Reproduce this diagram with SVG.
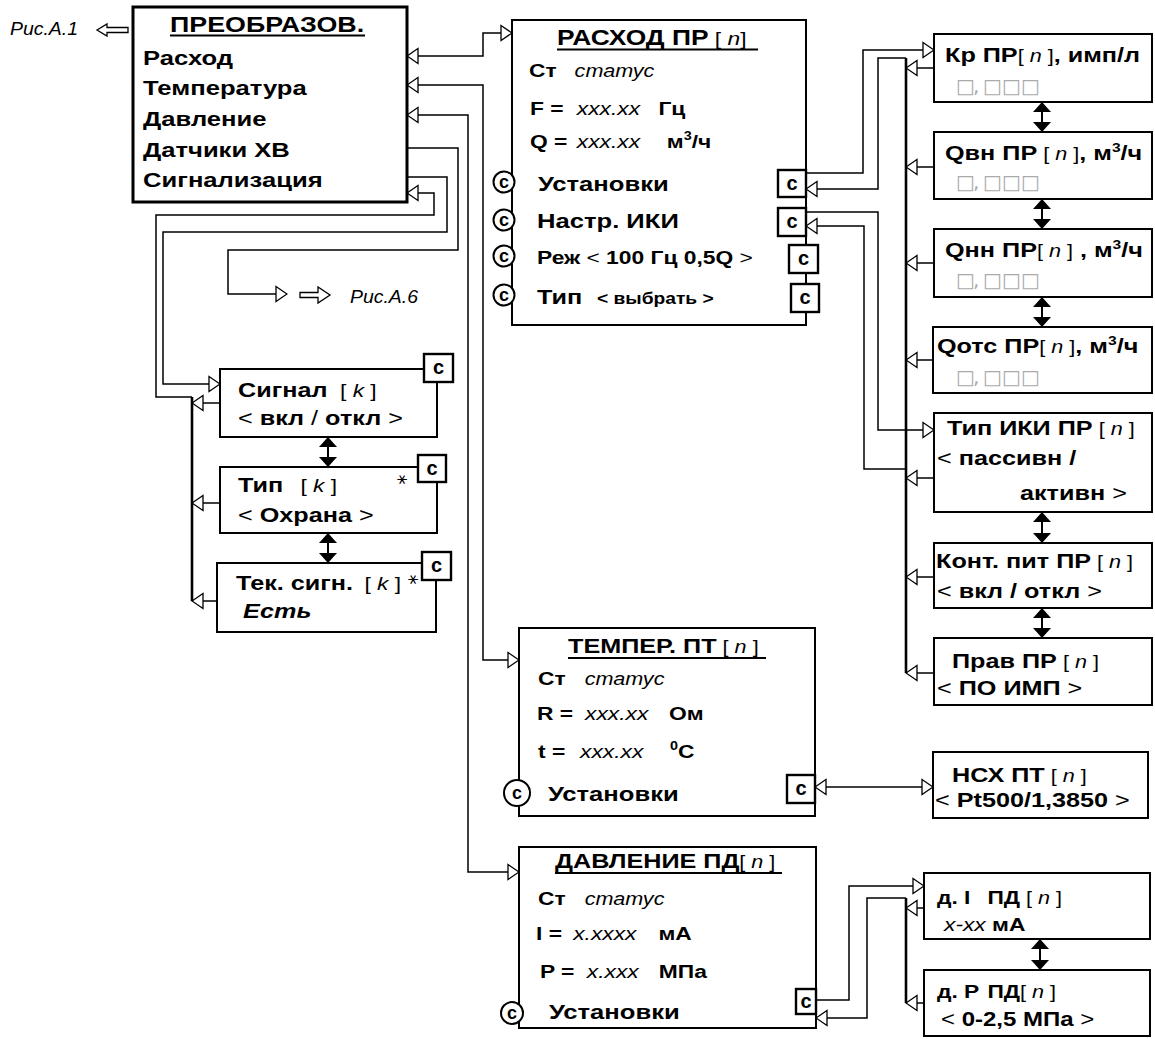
<svg xmlns="http://www.w3.org/2000/svg" width="1155" height="1039" viewBox="0 0 1155 1039">
<defs>
<style>
text{font-family:"Liberation Sans",Arial,sans-serif;fill:#000}
.b{font-weight:bold}
.it{font-style:italic;font-weight:normal}
.bi{font-style:italic;font-weight:bold}
.box{fill:#fff;stroke:#000;stroke-width:2}
.cb{fill:#fff;stroke:#000;stroke-width:2.4}
.cn{fill:none;stroke:#000;stroke-width:1.5}
.bus{fill:none;stroke:#000;stroke-width:2.6}
.ul{stroke:#000;stroke-width:2.2}
.ct{font-weight:bold;font-size:20px;text-anchor:middle}
.cc{font-weight:bold;font-size:18px;text-anchor:middle}
.circ{fill:#fff;stroke:#000;stroke-width:2}
.sq{font-family:"DejaVu Sans",sans-serif;font-size:20px;fill:#aaa}
.ast{font-family:"DejaVu Sans",sans-serif;font-size:17px;text-anchor:middle}
.dbl{fill:none;stroke:#000;stroke-width:2}
.ref{font-style:italic;font-size:18px}
</style>
<marker id="ah" viewBox="0 0 13 18" refX="12" refY="9" markerWidth="13" markerHeight="18" markerUnits="userSpaceOnUse" orient="auto-start-reverse">
<path d="M1,1.5 L12,9 L1,16.5 Z" fill="#fff" stroke="#000" stroke-width="1.3"/>
</marker>
<marker id="fa" viewBox="0 0 10 18" refX="10" refY="9" markerWidth="10" markerHeight="18" markerUnits="userSpaceOnUse" orient="auto-start-reverse">
<path d="M0,0 L10,9 L0,18 Z" fill="#000"/>
</marker>
</defs>
<rect width="1155" height="1039" fill="#fff"/>

<g id="connectors">
<g class="cn">
<path d="M407,56 H483 V33 H512" marker-start="url(#ah)" marker-end="url(#ah)"/>
<path d="M407,85 H483 V660 H519" marker-start="url(#ah)" marker-end="url(#ah)"/>
<path d="M407,115 H468 V872 H519" marker-start="url(#ah)" marker-end="url(#ah)"/>
<path d="M407,148 H458 V250 H228 V294 H287" marker-end="url(#ah)"/>
<path d="M407,177 H447 V232 H163 V384 H220" marker-end="url(#ah)"/>
<path d="M192,397 H156 V215 H434 V193 H407" marker-end="url(#ah)"/>
<path d="M220,403 H192" marker-end="url(#ah)"/>
<path d="M220,503 H192" marker-end="url(#ah)"/>
<path d="M217,601 H192" marker-end="url(#ah)"/>
<path d="M806,173 H863 V50 H934" marker-end="url(#ah)"/>
<path d="M906,58 H878 V189 H806" marker-end="url(#ah)"/>
<path d="M806,212 H878 V430 H934" marker-end="url(#ah)"/>
<path d="M906,469 H864 V226 H806" marker-end="url(#ah)"/>
<path d="M934,68 H906" marker-end="url(#ah)"/>
<path d="M934,167 H906" marker-end="url(#ah)"/>
<path d="M934,263 H906" marker-end="url(#ah)"/>
<path d="M933,360 H906" marker-end="url(#ah)"/>
<path d="M934,478 H906" marker-end="url(#ah)"/>
<path d="M934,577 H906" marker-end="url(#ah)"/>
<path d="M934,673 H906" marker-end="url(#ah)"/>
<path d="M815,787 H933" marker-start="url(#ah)" marker-end="url(#ah)"/>
<path d="M816,1000 H849 V886 H924" marker-end="url(#ah)"/>
<path d="M906,898 H867 V1018 H816" marker-end="url(#ah)"/>
<path d="M924,908 H906" marker-end="url(#ah)"/>
<path d="M924,1003 H906" marker-end="url(#ah)"/>
</g>
<path class="bus" d="M192,397 V601"/>
<path class="bus" d="M906,58 V673"/>
<path class="bus" d="M906,898 V1003"/>
<g class="dbl">
<path d="M328,437 V467" marker-start="url(#fa)" marker-end="url(#fa)"/>
<path d="M328,533 V563" marker-start="url(#fa)" marker-end="url(#fa)"/>
<path d="M1042,102 V132" marker-start="url(#fa)" marker-end="url(#fa)"/>
<path d="M1042,199 V229" marker-start="url(#fa)" marker-end="url(#fa)"/>
<path d="M1042,297 V327" marker-start="url(#fa)" marker-end="url(#fa)"/>
<path d="M1042,512 V543" marker-start="url(#fa)" marker-end="url(#fa)"/>
<path d="M1042,608 V638" marker-start="url(#fa)" marker-end="url(#fa)"/>
<path d="M1040,939 V970" marker-start="url(#fa)" marker-end="url(#fa)"/>
</g>
<polygon points="97,30 107,24 107,27.5 128,27.5 128,32.5 107,32.5 107,36" fill="#fff" stroke="#000" stroke-width="1.3"/>
<polygon points="300,292.5 318,292.5 318,287 330,295 318,303 318,297.5 300,297.5" fill="#fff" stroke="#000" stroke-width="1.3"/>
</g>

<g id="ref1">
<text class="ref" transform="translate(10,35) scale(1.08,1)">Рис.А.1</text>
</g>
<g id="ref6">
<text class="ref" transform="translate(350,303) scale(1.08,1)">Рис.А.6</text>
</g>

<g id="preobraz">
<rect x="133" y="7" width="274" height="195" fill="#fff" stroke="#000" stroke-width="3"/>
<text class="b" font-size="22" transform="translate(170,32) scale(1.22,1)">ПРЕОБРАЗОВ.</text>
<line class="ul" x1="170" y1="35.5" x2="365" y2="35.5"/>
<text class="b" font-size="21" transform="translate(143,65) scale(1.22,1)">Расход</text>
<text class="b" font-size="21" transform="translate(143,95) scale(1.22,1)">Температура</text>
<text class="b" font-size="21" transform="translate(143,126) scale(1.22,1)">Давление</text>
<text class="b" font-size="21" transform="translate(143,157) scale(1.22,1)">Датчики ХВ</text>
<text class="b" font-size="21" transform="translate(143,187) scale(1.22,1)">Сигнализация</text>
</g>

<g id="rashod">
<rect class="box" x="512" y="20" width="294" height="305"/>
<text transform="translate(557,45) scale(1.2,1)"><tspan class="b" font-size="22">РАСХОД ПР</tspan><tspan font-size="19"> [ </tspan><tspan class="it" font-size="19">n</tspan><tspan font-size="19">]</tspan></text>
<line class="ul" x1="557" y1="49.5" x2="758" y2="49.5"/>
<text transform="translate(529,77) scale(1.2,1)"><tspan class="b" font-size="19">Ст</tspan><tspan class="it" font-size="18" x="38">статус</tspan></text>
<text transform="translate(530,115) scale(1.2,1)"><tspan class="b" font-size="19">F =</tspan><tspan class="it" font-size="19" x="39">xxx.xx</tspan><tspan class="b" font-size="19" x="107">Гц</tspan></text>
<text transform="translate(530,148) scale(1.2,1)"><tspan class="b" font-size="19">Q =</tspan><tspan class="it" font-size="19" x="39">xxx.xx</tspan><tspan class="b" font-size="19" x="114">м</tspan><tspan class="b" font-size="12" dy="-8">3</tspan><tspan class="b" font-size="19" dy="8">/ч</tspan></text>
<circle class="circ" cx="504" cy="182" r="10.5"/><text class="cc" x="504" y="188">c</text>
<circle class="circ" cx="504" cy="220" r="10.5"/><text class="cc" x="504" y="226">c</text>
<circle class="circ" cx="504" cy="256" r="10.5"/><text class="cc" x="504" y="262">c</text>
<circle class="circ" cx="504" cy="295" r="10.5"/><text class="cc" x="504" y="301">c</text>
<text class="b" font-size="21" transform="translate(538,191) scale(1.22,1)">Установки</text>
<text class="b" font-size="21" transform="translate(537,228) scale(1.22,1)">Настр. ИКИ</text>
<text transform="translate(537,264) scale(1.2,1)"><tspan class="b" font-size="19">Реж</tspan><tspan font-size="19"> &lt; </tspan><tspan class="b" font-size="19">100 Гц 0,5Q</tspan><tspan font-size="19"> &gt;</tspan></text>
<text transform="translate(537,304) scale(1.2,1)"><tspan class="b" font-size="21">Тип</tspan><tspan class="b" font-size="16" x="50">&lt; выбрать &gt;</tspan></text>
<rect class="cb" x="778" y="170" width="28" height="27"/><text class="ct" x="792" y="190">c</text>
<rect class="cb" x="778" y="208" width="28" height="28"/><text class="ct" x="792" y="228">c</text>
<rect class="cb" x="789" y="245" width="29" height="28"/><text class="ct" x="803.5" y="265">c</text>
<rect class="cb" x="791" y="284" width="28" height="28"/><text class="ct" x="805" y="304">c</text>
</g>

<g id="temper">
<rect class="box" x="519" y="628" width="296" height="188"/>
<text transform="translate(568,653) scale(1.2,1)"><tspan class="b" font-size="21">ТЕМПЕР. ПТ</tspan><tspan font-size="18"> [ </tspan><tspan class="it" font-size="18">n</tspan><tspan font-size="18"> ]</tspan></text>
<line class="ul" x1="568" y1="658" x2="766" y2="658"/>
<text transform="translate(538,685) scale(1.2,1)"><tspan class="b" font-size="19">Ст</tspan><tspan class="it" font-size="18" x="39">статус</tspan></text>
<text transform="translate(537,720) scale(1.2,1)"><tspan class="b" font-size="19">R =</tspan><tspan class="it" font-size="19" x="40">xxx.xx</tspan><tspan class="b" font-size="19" x="110">Ом</tspan></text>
<text transform="translate(538,758) scale(1.2,1)"><tspan class="b" font-size="19">t =</tspan><tspan class="it" font-size="19" x="35">xxx.xx</tspan><tspan class="b" font-size="12" x="110" dy="-8">0</tspan><tspan class="b" font-size="19" dy="8">C</tspan></text>
<circle class="circ" cx="517" cy="793" r="13"/><text class="cc" x="517" y="799">c</text>
<text class="b" font-size="21" transform="translate(548,801) scale(1.22,1)">Установки</text>
<rect class="cb" x="787" y="775" width="28" height="28"/><text class="ct" x="801" y="795">c</text>
</g>

<g id="davlenie">
<rect class="box" x="519" y="847" width="297" height="181"/>
<text transform="translate(555,868) scale(1.2,1)"><tspan class="b" font-size="21">ДАВЛЕНИЕ ПД</tspan><tspan font-size="18">[ </tspan><tspan class="it" font-size="18">n</tspan><tspan font-size="18"> ]</tspan></text>
<line class="ul" x1="555" y1="873" x2="782" y2="873"/>
<text transform="translate(538,905) scale(1.2,1)"><tspan class="b" font-size="19">Ст</tspan><tspan class="it" font-size="18" x="39">статус</tspan></text>
<text transform="translate(536,940) scale(1.2,1)"><tspan class="b" font-size="19">I =</tspan><tspan class="it" font-size="19" x="31">x.xxxx</tspan><tspan class="b" font-size="19" x="102">мА</tspan></text>
<text transform="translate(540,978) scale(1.2,1)"><tspan class="b" font-size="19">P =</tspan><tspan class="it" font-size="19" x="39">x.xxx</tspan><tspan class="b" font-size="19" x="99">МПа</tspan></text>
<circle class="circ" cx="512" cy="1013" r="11"/><text class="cc" x="512" y="1019">c</text>
<text class="b" font-size="21" transform="translate(549,1019) scale(1.22,1)">Установки</text>
<rect class="cb" x="796" y="989" width="20" height="25"/><text class="ct" x="806" y="1008">c</text>
</g>

<g id="kr">
<rect class="box" x="934" y="34" width="218" height="68"/>
<text transform="translate(945,62) scale(1.2,1)"><tspan class="b" font-size="21">Кр ПР</tspan><tspan font-size="18">[ </tspan><tspan class="it" font-size="18">n</tspan><tspan font-size="18"> ]</tspan><tspan class="b" font-size="21">, имп/л</tspan></text>
<text class="sq" x="956 973 983 1002 1021" y="93">□,□□□</text>
</g>
<g id="qvn">
<rect class="box" x="934" y="132" width="218" height="67"/>
<text transform="translate(945,160) scale(1.2,1)"><tspan class="b" font-size="21">Qвн ПР</tspan><tspan font-size="18"> [ </tspan><tspan class="it" font-size="18">n</tspan><tspan font-size="18"> ]</tspan><tspan class="b" font-size="21">, м</tspan><tspan class="b" font-size="13" dy="-8">3</tspan><tspan class="b" font-size="21" dy="8">/ч</tspan></text>
<text class="sq" x="956 973 983 1002 1021" y="189">□,□□□</text>
</g>
<g id="qnn">
<rect class="box" x="934" y="229" width="218" height="68"/>
<text transform="translate(945,257) scale(1.2,1)"><tspan class="b" font-size="21">Qнн ПР</tspan><tspan font-size="18">[ </tspan><tspan class="it" font-size="18">n</tspan><tspan font-size="18"> ]</tspan><tspan class="b" font-size="21"> , м</tspan><tspan class="b" font-size="13" dy="-8">3</tspan><tspan class="b" font-size="21" dy="8">/ч</tspan></text>
<text class="sq" x="956 973 983 1002 1021" y="287">□,□□□</text>
</g>
<g id="qots">
<rect class="box" x="933" y="327" width="219" height="66"/>
<text transform="translate(937,353) scale(1.2,1)"><tspan class="b" font-size="21">Qотс ПР</tspan><tspan font-size="18">[ </tspan><tspan class="it" font-size="18">n</tspan><tspan font-size="18"> ]</tspan><tspan class="b" font-size="21">, м</tspan><tspan class="b" font-size="13" dy="-8">3</tspan><tspan class="b" font-size="21" dy="8">/ч</tspan></text>
<text class="sq" x="956 973 983 1002 1021" y="384">□,□□□</text>
</g>
<g id="tipiki">
<rect class="box" x="934" y="413" width="218" height="99"/>
<text transform="translate(947,435) scale(1.2,1)"><tspan class="b" font-size="21">Тип ИКИ ПР</tspan><tspan font-size="18"> [ </tspan><tspan class="it" font-size="18">n</tspan><tspan font-size="18"> ]</tspan></text>
<text transform="translate(937,465) scale(1.2,1)"><tspan font-size="21">&lt; </tspan><tspan class="b" font-size="21">пассивн /</tspan></text>
<text transform="translate(1020,500) scale(1.2,1)"><tspan class="b" font-size="21">активн </tspan><tspan font-size="21">&gt;</tspan></text>
</g>
<g id="kontpit">
<rect class="box" x="934" y="543" width="218" height="65"/>
<text transform="translate(936,568) scale(1.2,1)"><tspan class="b" font-size="21">Конт. пит ПР</tspan><tspan font-size="18"> [ </tspan><tspan class="it" font-size="18">n</tspan><tspan font-size="18"> ]</tspan></text>
<text transform="translate(937,598) scale(1.2,1)"><tspan font-size="21">&lt; </tspan><tspan class="b" font-size="21">вкл / откл </tspan><tspan font-size="21">&gt;</tspan></text>
</g>
<g id="prav">
<rect class="box" x="934" y="638" width="218" height="67"/>
<text transform="translate(952,668) scale(1.2,1)"><tspan class="b" font-size="21">Прав ПР</tspan><tspan font-size="18"> [ </tspan><tspan class="it" font-size="18">n</tspan><tspan font-size="18"> ]</tspan></text>
<text transform="translate(937,695) scale(1.2,1)"><tspan font-size="21">&lt; </tspan><tspan class="b" font-size="21">ПО ИМП </tspan><tspan font-size="21">&gt;</tspan></text>
</g>
<g id="nsh">
<rect class="box" x="933" y="752" width="215" height="66"/>
<text transform="translate(952,782) scale(1.2,1)"><tspan class="b" font-size="21">НСХ ПТ</tspan><tspan font-size="18"> [ </tspan><tspan class="it" font-size="18">n</tspan><tspan font-size="18"> ]</tspan></text>
<text transform="translate(935,807) scale(1.2,1)"><tspan font-size="21">&lt; </tspan><tspan class="b" font-size="21">Pt500/1,3850 </tspan><tspan font-size="21">&gt;</tspan></text>
</g>
<g id="dI">
<rect class="box" x="924" y="873" width="226" height="66"/>
<text transform="translate(937,904) scale(1.2,1)"><tspan class="b" font-size="19">д. I</tspan><tspan class="b" font-size="19" x="42">ПД</tspan><tspan font-size="18"> [ </tspan><tspan class="it" font-size="18">n</tspan><tspan font-size="18"> ]</tspan></text>
<text transform="translate(944,931) scale(1.2,1)"><tspan class="it" font-size="19">x-xx </tspan><tspan class="b" font-size="19">мА</tspan></text>
</g>
<g id="dP">
<rect class="box" x="924" y="970" width="226" height="66"/>
<text transform="translate(937,998) scale(1.2,1)"><tspan class="b" font-size="19">д. P</tspan><tspan class="b" font-size="19" x="42">ПД</tspan><tspan font-size="18">[ </tspan><tspan class="it" font-size="18">n</tspan><tspan font-size="18"> ]</tspan></text>
<text transform="translate(941,1026) scale(1.2,1)"><tspan font-size="20">&lt; </tspan><tspan class="b" font-size="20"> 0-2,5 МПа </tspan><tspan font-size="20">&gt;</tspan></text>
</g>

<g id="signal">
<rect class="box" x="220" y="369" width="217" height="68"/>
<text transform="translate(238,397) scale(1.2,1)"><tspan class="b" font-size="21">Сигнал</tspan><tspan font-size="19" x="85">[ </tspan><tspan class="it" font-size="19">k</tspan><tspan font-size="19"> ]</tspan></text>
<text transform="translate(238,425) scale(1.2,1)"><tspan font-size="21">&lt; </tspan><tspan class="b" font-size="21">вкл</tspan><tspan font-size="21"> / </tspan><tspan class="b" font-size="21">откл</tspan><tspan font-size="21"> &gt;</tspan></text>
<rect class="cb" x="424" y="354" width="29" height="28"/><text class="ct" x="438.5" y="374">c</text>
</g>
<g id="tipk">
<rect class="box" x="220" y="467" width="217" height="66"/>
<text transform="translate(238,492) scale(1.2,1)"><tspan class="b" font-size="21">Тип</tspan><tspan font-size="19" x="52">[ </tspan><tspan class="it" font-size="19">k</tspan><tspan font-size="19"> ]</tspan></text>
<text transform="translate(238,522) scale(1.2,1)"><tspan font-size="21">&lt; </tspan><tspan class="b" font-size="21">Охрана</tspan><tspan font-size="21"> &gt;</tspan></text>
<text class="ast" x="402" y="484">⚹</text>
<rect class="cb" x="418" y="455" width="28" height="27"/><text class="ct" x="432" y="475">c</text>
</g>
<g id="teksign">
<rect class="box" x="217" y="563" width="219" height="69"/>
<text transform="translate(236,590) scale(1.2,1)"><tspan class="b" font-size="21">Тек. сигн.</tspan><tspan font-size="19" x="107">[ </tspan><tspan class="it" font-size="19">k</tspan><tspan font-size="19"> ]</tspan></text>
<text class="bi" font-size="21" transform="translate(243,618) scale(1.2,1)">Есть</text>
<text class="ast" x="413" y="584">⚹</text>
<rect class="cb" x="422" y="552" width="29" height="28"/><text class="ct" x="436.5" y="572">c</text>
</g>
</svg>
